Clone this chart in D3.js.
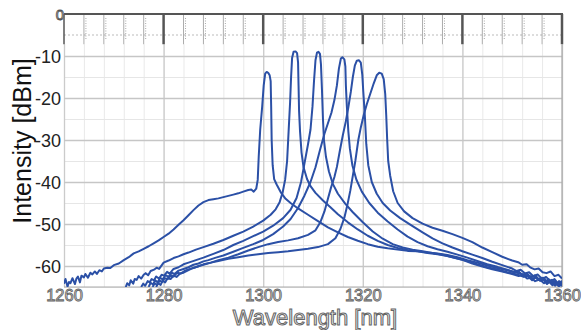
<!DOCTYPE html>
<html>
<head>
<meta charset="utf-8">
<script src="https://cdn.jsdelivr.net/npm/d3@7"></script>
<style>
  html, body { margin: 0; padding: 0; background: #fff; }
  svg { display: block; font-family: "Liberation Sans", Arial, sans-serif; }
</style>
</head>
<body>
<svg id="chart" width="581" height="330"></svg>
<script>
// [wavelength nm, intensity dBm], one array per laser line
const spectrum1 = [[1260,-64.2],[1260.3,-63.1],[1260.7,-64.9],[1261,-63.8],[1261.3,-64.1],[1261.7,-62.9],[1262.2,-64.3],[1262.5,-63.0],[1262.8,-62.5],[1263.2,-63.9],[1263.5,-62.3],[1264,-62.7],[1264.3,-61.9],[1264.8,-62.8],[1265.3,-61.6],[1265.7,-62.0],[1266.2,-61.3],[1266.6,-61.9],[1267.1,-61.0],[1267.6,-61.3],[1268,-60.6],[1268.7,-60.4],[1269.3,-60.5],[1270,-59.8],[1271,-59.4],[1272,-58.6],[1273,-57.9],[1274,-57.0],[1275,-56.5],[1276,-55.9],[1277,-55.3],[1278,-54.6],[1279,-53.9],[1280,-53.1],[1281,-52.3],[1282,-51.3],[1283,-50.2],[1284,-49.1],[1285,-47.9],[1286,-46.7],[1287,-45.6],[1288,-44.8],[1289,-44.3],[1290,-44.1],[1291,-43.9],[1292,-43.6],[1293,-43.3],[1294,-43.0],[1295,-42.7],[1296,-42.3],[1297,-41.9],[1297.6,-41.8],[1298.1,-42.3],[1298.6,-41.6],[1298.9,-39.5],[1299.1,-34],[1299.4,-27.5],[1299.8,-22],[1300.1,-17],[1300.4,-14.2],[1300.7,-13.8],[1301.0,-14.0],[1301.3,-14.6],[1301.5,-16],[1301.6,-22],[1301.7,-30],[1301.9,-36],[1302.2,-39.3],[1302.7,-40.6],[1303.5,-42.4],[1304.5,-44.0],[1305.5,-45.0],[1307,-46.3],[1309,-47.8],[1311,-49.3],[1313,-50.8],[1315,-52.0],[1317,-53.1],[1319,-54.0],[1321,-54.8],[1323,-55.4],[1325,-55.8],[1327,-56.1],[1329,-56.4],[1331,-56.5],[1333,-56.8],[1335,-57.0],[1337,-57.4],[1339,-57.9],[1341,-58.6],[1343,-59.2],[1345,-59.9],[1347,-60.5],[1349,-61.0],[1351,-61.6],[1353,-62.3],[1354.5,-62.6],[1355.2,-63.2],[1356,-62.8],[1356.8,-63.9],[1357.3,-63.1],[1358,-64.2],[1358.6,-63.6],[1359.2,-64.6],[1360,-63.8]];

const spectrum2 = [[1272.4,-65],[1272.7,-64.1],[1273.1,-64.6],[1273.4,-63.4],[1273.9,-64.2],[1274.2,-63.1],[1274.6,-63.3],[1275,-62.4],[1275.5,-63.0],[1276,-62.1],[1276.4,-61.7],[1276.9,-62.2],[1277.4,-61.2],[1278.2,-60.8],[1278.6,-60.4],[1279.1,-60.7],[1280,-59.2],[1281,-58.7],[1282,-58.1],[1283,-57.7],[1284,-57.2],[1285,-56.8],[1286.5,-56.1],[1288,-55.5],[1290,-54.7],[1292,-53.8],[1294,-52.8],[1296,-51.8],[1298,-50.6],[1300,-49.2],[1301.5,-47.8],[1302.5,-46.5],[1303.3,-44.8],[1303.9,-42.5],[1304.4,-39.5],[1304.8,-35],[1305.1,-28],[1305.4,-21],[1305.6,-15],[1305.8,-10.5],[1306.1,-9.0],[1306.5,-8.9],[1306.8,-9.3],[1307,-11.5],[1307.1,-17],[1307.2,-23],[1307.4,-28],[1307.7,-33],[1308.1,-36.5],[1308.8,-39.3],[1309.5,-41.0],[1310.5,-42.6],[1312,-44.4],[1313.5,-46],[1315,-47.7],[1317,-49.6],[1319,-51.3],[1321,-52.8],[1323,-54.0],[1325,-55.0],[1327,-55.7],[1329,-56.2],[1331,-56.5],[1333,-56.9],[1335,-57.2],[1337,-57.6],[1339,-58.2],[1341,-58.8],[1343,-59.6],[1345,-60.3],[1347,-60.8],[1349,-61.5],[1351,-62.0],[1352.3,-62.6],[1353,-62.2],[1354,-63.4],[1354.7,-62.7],[1355.6,-63.5],[1356.3,-63.2],[1357,-64.3],[1357.8,-63.4],[1358.6,-64.7],[1359.3,-63.9],[1360,-64.8]];

const spectrum3 = [[1275.5,-65],[1275.9,-64.2],[1276.3,-64.7],[1276.8,-63.6],[1277.2,-63.9],[1277.6,-63.1],[1278.1,-63.4],[1278.5,-62.5],[1279.1,-63.0],[1279.6,-62.1],[1280.1,-62.3],[1280.7,-61.4],[1281.2,-61.8],[1282,-60.7],[1283,-60.3],[1284,-59.6],[1285,-59.2],[1286.5,-58.6],[1288,-58.0],[1290,-57.1],[1292,-56.2],[1294,-55.0],[1296,-54.0],[1298,-52.9],[1300,-51.8],[1302,-50.4],[1304,-48.6],[1305.5,-46.6],[1306.7,-43.8],[1307.6,-40.0],[1308.3,-35.5],[1309,-31],[1309.5,-27.5],[1309.9,-22],[1310.2,-16],[1310.5,-11],[1310.8,-9.2],[1311.1,-9.0],[1311.4,-9.5],[1311.6,-12],[1311.8,-18],[1312,-25],[1312.2,-30],[1312.6,-34],[1313.2,-37.5],[1314,-40.5],[1315,-42.8],[1316.5,-45.2],[1318,-47.2],[1320,-49.6],[1322,-51.8],[1324,-53.5],[1326,-54.8],[1328,-55.6],[1330,-56.1],[1332,-56.5],[1334,-56.9],[1336,-57.3],[1338,-57.9],[1340,-58.5],[1342,-59.4],[1344,-60.1],[1346,-60.8],[1348,-61.3],[1350,-61.9],[1351.3,-62.4],[1352.1,-62.1],[1353,-63.0],[1353.8,-62.8],[1354.6,-63.6],[1355.5,-63.2],[1356.4,-64.1],[1357.2,-63.5],[1358.1,-64.6],[1358.8,-63.9],[1359.4,-64.9],[1360,-64.1]];

const spectrum4 = [[1277,-65],[1277.4,-64.0],[1277.9,-64.4],[1278.3,-63.4],[1278.8,-63.9],[1279.3,-62.8],[1279.8,-63.2],[1280.4,-62.2],[1281,-62.6],[1281.6,-61.6],[1282.2,-61.9],[1283,-61.1],[1284,-60.7],[1285,-60.3],[1286,-59.7],[1287,-59.4],[1288,-58.9],[1289,-58.6],[1290.5,-58.0],[1292,-57.5],[1294,-56.6],[1296,-55.7],[1298,-54.8],[1300,-53.8],[1302,-52.4],[1304,-50.6],[1305.5,-48.8],[1307,-46.2],[1308.3,-43.2],[1309.5,-40],[1310.5,-36.5],[1311.4,-32.4],[1312.3,-28.5],[1313,-26],[1313.7,-23.5],[1314.3,-20.5],[1314.8,-17],[1315.2,-13],[1315.6,-10.6],[1315.9,-10.3],[1316.3,-10.8],[1316.5,-12.5],[1316.6,-17],[1316.8,-22],[1317.1,-28],[1317.4,-32],[1317.9,-36],[1318.7,-39.4],[1319.8,-42.3],[1321.3,-45],[1323,-47.3],[1325,-49.4],[1327,-51.3],[1329,-53.0],[1331,-54.3],[1333,-55.3],[1335,-56.0],[1337,-56.6],[1339,-57.3],[1341,-58.0],[1343,-58.8],[1345,-59.6],[1347,-60.2],[1349,-60.9],[1350.4,-61.5],[1351.2,-61.2],[1352,-62.1],[1352.9,-61.8],[1353.8,-62.7],[1354.6,-62.2],[1355.5,-63.4],[1356.3,-62.8],[1357.2,-63.9],[1358,-63.3],[1358.8,-64.4],[1359.4,-63.6],[1360,-64.6]];

const spectrum5 = [[1278.5,-65],[1278.9,-64.1],[1279.4,-64.5],[1279.8,-63.5],[1280.3,-63.9],[1280.8,-62.9],[1281.4,-63.1],[1282,-62.3],[1282.6,-62.6],[1283.3,-61.8],[1284,-61.6],[1285,-61.0],[1286,-60.4],[1287,-60.1],[1288,-59.6],[1289.5,-59.2],[1291,-58.6],[1293,-58.0],[1295,-57.2],[1297,-56.3],[1299,-55.5],[1301,-54.8],[1303,-54.3],[1305,-53.9],[1307,-53.4],[1309,-52.6],[1310.5,-51.5],[1311.5,-49.5],[1312.3,-47],[1313,-44],[1313.6,-41.4],[1314.3,-38.8],[1314.8,-36.4],[1315.4,-32.5],[1316,-28.8],[1316.6,-25.5],[1317.1,-22.2],[1317.6,-18.5],[1318,-15],[1318.4,-12.3],[1318.8,-11.1],[1319.2,-11.0],[1319.6,-11.6],[1319.9,-14.5],[1320.1,-18.5],[1320.4,-24],[1320.7,-31],[1321.1,-36],[1321.8,-40],[1322.8,-42.8],[1324,-45],[1325.5,-46.8],[1327.5,-48.6],[1330,-50.5],[1332,-52.0],[1334,-53.4],[1336,-54.6],[1338,-55.6],[1340,-56.5],[1342,-57.3],[1344,-58.1],[1346,-59.0],[1348,-59.8],[1350,-60.6],[1350.9,-61.2],[1351.7,-60.9],[1352.6,-61.8],[1353.4,-61.5],[1354.3,-62.5],[1355.1,-62.0],[1356,-63.1],[1356.8,-62.6],[1357.7,-63.7],[1358.5,-63.1],[1359.3,-64.3],[1360,-63.5]];

const spectrum6 = [[1277.8,-65],[1278.2,-64.1],[1278.7,-64.5],[1279.2,-63.5],[1279.7,-63.8],[1280.2,-62.9],[1280.8,-63.1],[1281.4,-62.2],[1282,-62.5],[1282.7,-61.6],[1283.4,-61.8],[1284.2,-61.2],[1285,-60.8],[1286,-60.5],[1287,-60.0],[1288,-59.7],[1289.5,-59.2],[1291,-58.8],[1293,-58.3],[1295,-57.9],[1297,-57.5],[1299,-57.2],[1301,-56.9],[1303,-56.7],[1305,-56.5],[1307,-56.2],[1309,-55.9],[1311,-55.5],[1313,-54.8],[1314.5,-53.4],[1315.5,-51.2],[1316.3,-48.5],[1316.9,-45.5],[1317.5,-42],[1318,-38.5],[1318.5,-35],[1319.1,-30],[1319.6,-27],[1320.2,-24],[1320.8,-21.5],[1321.5,-19],[1322.2,-16.5],[1322.8,-14.6],[1323.3,-14.0],[1323.8,-14.2],[1324.2,-15.5],[1324.5,-19],[1324.7,-24],[1324.9,-30],[1325.1,-35],[1325.5,-38.5],[1326.1,-42.2],[1327,-45],[1328.3,-47],[1330,-48.6],[1332,-49.9],[1334,-50.9],[1336,-51.6],[1338,-52.4],[1340,-53.3],[1342,-54.3],[1344,-55.6],[1346,-56.7],[1348,-57.8],[1350,-58.7],[1351.2,-59.1],[1352,-59.7],[1352.9,-59.6],[1353.7,-60.4],[1354.5,-60.8],[1355.3,-60.6],[1356.1,-61.5],[1356.9,-61.7],[1357.7,-61.3],[1358.5,-62.4],[1359.3,-62.1],[1360,-63.0]];

const spectra = [spectrum1, spectrum2, spectrum3, spectrum4, spectrum5, spectrum6];

const xTicks = [1260, 1280, 1300, 1320, 1340, 1360];
const yTicks = [-60, -50, -40, -30, -20, -10, 0];
const xLabel = 'Wavelength [nm]';
const yLabel = 'Intensity [dBm]';

const margin = { top: 14, right: 19, bottom: 43, left: 64 };
const W = 581, H = 330;
const width = W - margin.left - margin.right;
const height = H - margin.top - margin.bottom;

const root = d3.select('#chart');
const svg = root.append('g').attr('transform', `translate(${margin.left},${margin.top})`);

const x = d3.scaleLinear().domain([1260, 1360]).range([0, width]);
const y = d3.scaleLinear().domain([-65, 0]).range([height, 0]);
const stripBottom = y(-7.2);

// minor grid (every 4 nm / 5 dB), then major grid
svg.append('g')
  .attr('transform', `translate(0,${height})`)
  .call(d3.axisBottom(x).tickValues(d3.range(1260, 1361, 4)).tickSize(-(height - stripBottom)).tickFormat(''))
  .call(g => g.select('.domain').remove())
  .call(g => g.selectAll('line').attr('stroke', '#e9e9e9'));
svg.append('g')
  .call(d3.axisLeft(y).tickValues(d3.range(-65, -6, 5)).tickSize(-width).tickFormat(''))
  .call(g => g.select('.domain').remove())
  .call(g => g.selectAll('line').attr('stroke', '#e6e6e6'));
svg.append('g')
  .attr('transform', `translate(0,${height})`)
  .call(d3.axisBottom(x).tickValues(xTicks).tickSize(-(height - stripBottom)).tickFormat(''))
  .call(g => g.select('.domain').remove())
  .call(g => g.selectAll('line').attr('stroke', '#cbcbcb').attr('stroke-width', 1.3));
svg.append('g')
  .call(d3.axisLeft(y).tickValues(yTicks.filter(v => v < 0)).tickSize(-width).tickFormat(''))
  .call(g => g.select('.domain').remove())
  .call(g => g.selectAll('line').attr('stroke', '#c6c6c6').attr('stroke-width', 1.3));

// top strip with instrument markers
const strip = svg.append('g');
strip.append('line')
  .attr('x1', 0).attr('x2', width).attr('y1', y(-5)).attr('y2', y(-5))
  .attr('stroke', '#bbb').attr('stroke-dasharray', '2,2');
d3.range(1264, 1360, 4).filter(v => !xTicks.includes(v)).forEach(v => {
  strip.append('line')
    .attr('x1', x(v)).attr('x2', x(v)).attr('y1', 0).attr('y2', stripBottom)
    .attr('stroke', '#888').attr('stroke-width', 0.7);
  strip.append('line')
    .attr('x1', x(v) + 2).attr('x2', x(v) + 2).attr('y1', 4).attr('y2', stripBottom - 4)
    .attr('stroke', '#aaa').attr('stroke-width', 1).attr('stroke-dasharray', '1,1.5');
});
xTicks.forEach(v => {
  strip.append('line')
    .attr('x1', x(v)).attr('x2', x(v)).attr('y1', 0).attr('y2', stripBottom)
    .attr('stroke', '#555').attr('stroke-width', v === 1260 ? 1.5 : 2.5);
});

// frame
svg.append('line').attr('x1', 0).attr('x2', width).attr('y1', height).attr('y2', height)
  .attr('stroke', '#aaa').attr('stroke-width', 1.2);
svg.append('line').attr('x1', width).attr('x2', width).attr('y1', stripBottom).attr('y2', height)
  .attr('stroke', '#aaa').attr('stroke-width', 1.2);
svg.append('line').attr('x1', 0).attr('x2', width + 1).attr('y1', 0).attr('y2', 0)
  .attr('stroke', '#555').attr('stroke-width', 2);

// spectra
svg.append('clipPath').attr('id', 'plot-clip')
  .append('rect').attr('x', 0).attr('y', 0).attr('width', width).attr('height', height);

const line = d3.line()
  .x(d => x(d[0]))
  .y(d => y(d[1]))
  .curve(d3.curveLinear);

svg.append('g').attr('clip-path', 'url(#plot-clip)')
  .selectAll('path')
  .data(spectra)
  .join('path')
  .attr('fill', 'none')
  .attr('stroke', '#2b50a6')
  .attr('stroke-width', 2)
  .attr('stroke-linejoin', 'round')
  .attr('d', line);

// tick labels
svg.append('g')
  .attr('transform', `translate(0,${height})`)
  .call(d3.axisBottom(x).tickValues(xTicks).tickSize(0).tickPadding(2).tickFormat(d => String(d)))
  .call(g => g.select('.domain').remove())
  .call(g => g.selectAll('text')
    .attr('font-size', 16.5)
    .attr('fill', '#f2f2f2')
    .attr('stroke', '#666')
    .attr('stroke-width', 0.9));

svg.append('g')
  .call(d3.axisLeft(y).tickValues(yTicks).tickSize(0).tickPadding(3).tickFormat(d => String(d)))
  .call(g => g.select('.domain').remove())
  .call(g => g.selectAll('text')
    .attr('font-size', 18)
    .attr('fill', '#222')
    .attr('dy', '0.36em'))
  .call(g => g.selectAll('.tick')
    .filter(d => d === 0)
    .select('text')
    .attr('font-size', 15)
    .attr('fill', '#f2f2f2')
    .attr('stroke', '#555')
    .attr('stroke-width', 0.9)
    .attr('x', 0));

// axis titles
root.append('text')
  .attr('x', margin.left + width / 2 + 2)
  .attr('y', 325)
  .attr('text-anchor', 'middle')
  .attr('font-size', 22)
  .attr('fill', '#f2f2f2')
  .attr('stroke', '#666')
  .attr('stroke-width', 1)
  .text(xLabel);

root.append('text')
  .attr('transform', `translate(31,${margin.top + 127}) rotate(-90)`)
  .attr('text-anchor', 'middle')
  .attr('font-size', 25)
  .attr('fill', '#111')
  .text(yLabel);
</script>
</body>
</html>
